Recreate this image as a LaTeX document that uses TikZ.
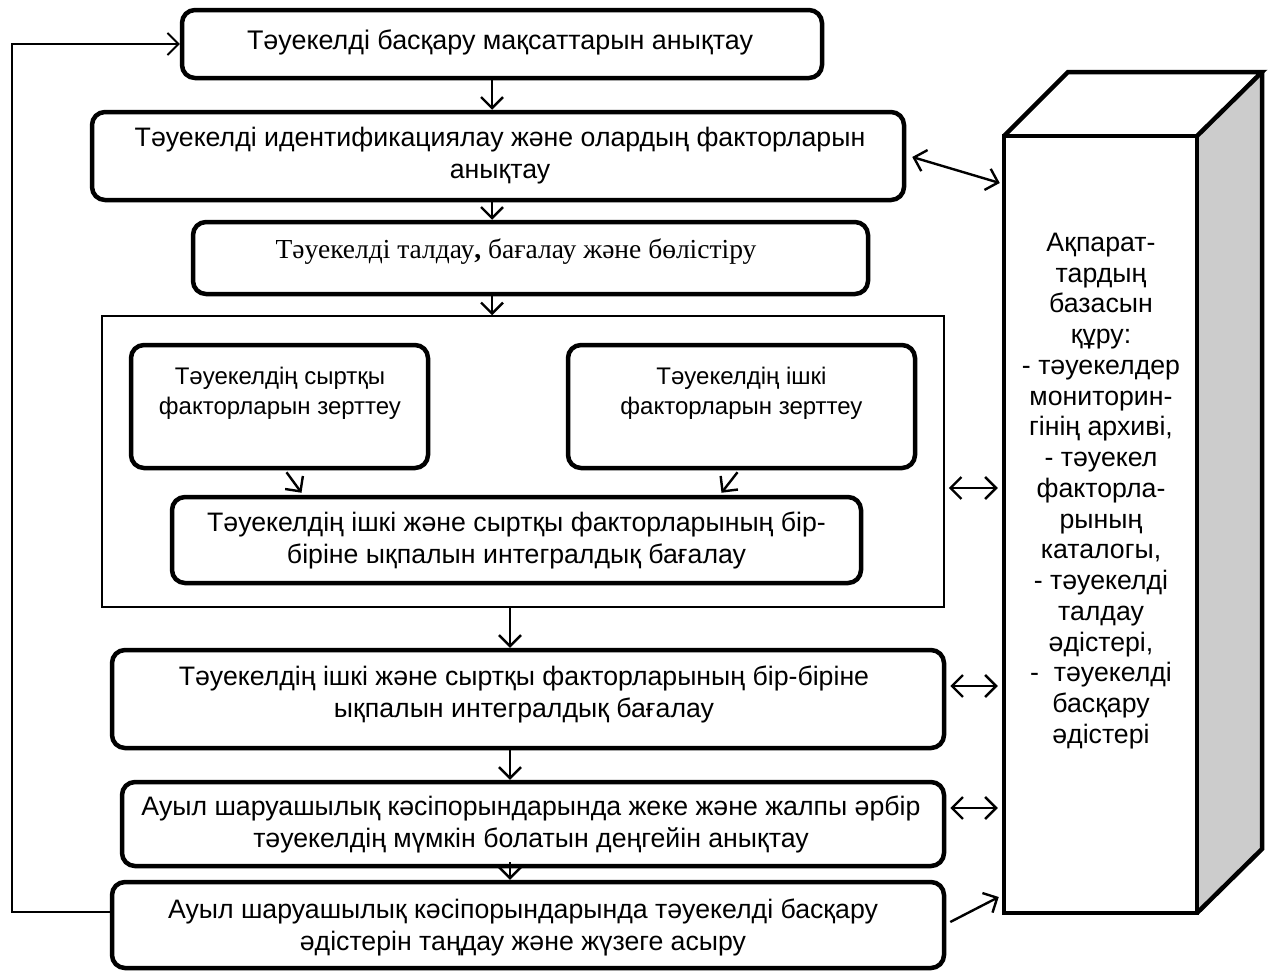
\documentclass[tikz,border=0pt]{standalone}
\usepackage{fontspec}
\setmainfont{Liberation Sans}
\newfontfamily\serifface{Liberation Serif}
\usetikzlibrary{arrows.meta,calc}
\begin{document}
\begin{tikzpicture}[x=1pt,y=-1pt,
  box/.style={draw, line width=4.5pt, rounded corners=13pt, align=center, inner sep=0pt},
  tip/.style={Straight Barb[length=11pt,width=22pt,line width=2.4pt]},
  arr/.style={line width=2.4pt, -{Straight Barb[length=11pt,width=22pt,line width=2.4pt]}},
  darr/.style={line width=2.4pt, {Straight Barb[length=11pt,width=22pt,line width=2.4pt]}-{Straight Barb[length=11pt,width=22pt,line width=2.4pt]}},
  txt/.style={align=center, font=\fontsize{26.7}{32}\selectfont, inner sep=0pt}]
\useasboundingbox (0,0) rectangle (1272,972);
% boxes
\node[box, minimum width=640pt, minimum height=68pt] (b1) at (502,44) {};
\node[txt, font=\fontsize{26.9}{31}\selectfont] (t1) at (500,42) {Тәуекелді басқару мақсаттарын анықтау};
\node[box, minimum width=812pt, minimum height=88pt] (b2) at (498,156) {};
\node[txt] (t2) at (500,156) {Тәуекелді идентификациялау және олардың факторларын\\анықтау};
\node[box, minimum width=675pt, minimum height=72pt] (b3) at (530.5,258) {};
\node[font=\serifface\fontsize{27.5}{30}\selectfont, inner sep=0pt] (t3) at (516,252) {Тәуекелді талдау\textbf{,} бағалау және бөлістіру};
\node[draw, line width=1.5pt, minimum width=842pt, minimum height=291pt, inner sep=0pt] (fr) at (523,461.5) {};
\node[box, minimum width=297pt, minimum height=123pt] (b5) at (279.5,406.5) {};
\node[txt, font=\fontsize{24}{30}\selectfont] (t5) at (280,393) {Тәуекелдің сыртқы\\факторларын зерттеу};
\node[box, minimum width=347pt, minimum height=123pt] (b6) at (741.5,406.5) {};
\node[txt, font=\fontsize{24}{30}\selectfont] (t6) at (741.5,393) {Тәуекелдің ішкі\\факторларын зерттеу};
\node[box, minimum width=689pt, minimum height=86pt] (b7) at (516.5,540) {};
\node[txt] (t7) at (516.5,540) {Тәуекелдің ішкі және сыртқы факторларының бір-\\біріне ықпалын интегралдық бағалау};
\node[box, minimum width=832pt, minimum height=98pt] (b8) at (528,699) {};
\node[txt] (t8) at (524,694) {Тәуекелдің ішкі және сыртқы факторларының бір-біріне\\ықпалын интегралдық бағалау};
\node[box, minimum width=822pt, minimum height=84pt] (b9) at (533,824) {};
\node[txt] (t9) at (531,824) {Ауыл шаруашылық кәсіпорындарында жеке және жалпы әрбір\\тәуекелдің мүмкін болатын деңгейін анықтау};
\node[box, minimum width=832pt, minimum height=86pt] (b10) at (528,925) {};
\node[txt] (t10) at (523,927) {Ауыл шаруашылық кәсіпорындарында тәуекелді басқару\\әдістерін таңдау және жүзеге асыру};
% 3D box
\fill[gray!40] (1197,136) -- (1262,72) -- (1262,849) -- (1197,913) -- cycle;
\draw[line width=4.5pt, line join=miter] (1004,136) -- (1068,72) -- (1262,72) -- (1197,136);
\draw[line width=4.5pt, line join=miter] (1262,72) -- (1262,849) -- (1197,913);
\node[draw, line width=4.5pt, minimum width=193pt, minimum height=777pt, inner sep=0pt] (db) at (1100.5,524.5) {};
\node[txt, font=\fontsize{26.7}{30.75}\selectfont] (tdb) at (1101,491) {Ақпарат-\\тардың\\базасын\\құру:\\- тәуекелдер\\мониторин-\\гінің архиві,\\- тәуекел\\факторла-\\рының\\каталогы,\\- тәуекелді\\талдау\\әдістері,\\-~~тәуекелді\\басқару\\әдістері};
% helper coordinates
\coordinate (xa) at (492,0);
\coordinate (xb) at (510,0);
\coordinate (y2) at (0,183);
\coordinate (yf) at (0,488);
\coordinate (y8) at (0,686);
\coordinate (y9) at (0,808);
\coordinate (y10) at (0,897);
\coordinate (yb) at (0,912);
\coordinate (xl) at (12,0);
% vertical arrows
\draw[arr] (b1.south -| xa) -- (b2.north -| xa);
\draw[arr] (b2.south -| xa) -- (b3.north -| xa);
\draw[arr] (b3.south -| xa) -- (fr.north -| xa);
\draw[arr] (fr.south -| xb) -- (b8.north -| xb);
\draw[arr] (b8.south -| xb) -- (b9.north -| xb);
\draw[arr] ($(b9.south -| xb)+(0,-6)$) -- (b10.north -| xb);
\draw[arr] ($(b5.south)+(7,2)$) -- ($(b7.north)+(-215,-2)$);
\draw[arr] ($(b6.south)+(-4,2)$) -- ($(b7.north)+(205,-2)$);
% side arrows
\draw[darr] ($(b2.east)+(6,1)$) -- ($(db.west |- y2)+(-2,0)$);
\draw[darr] ($(fr.east |- yf)+(4,0)$) -- ($(db.west |- yf)+(-4,0)$);
\draw[darr] ($(b8.east |- y8)+(4,0)$) -- ($(db.west |- y8)+(-4,0)$);
\draw[darr] ($(b9.east |- y9)+(4,0)$) -- ($(db.west |- y9)+(-4,0)$);
\draw[arr] ($(b10.east |- 0,922)+(4,0)$) -- ($(db.west |- y10)+(-3,0)$);
% feedback
\draw[line width=1.5pt, -{Straight Barb[length=11pt,width=22pt,line width=1.8pt]}] (b10.west |- yb) -- (xl |- yb) -- (xl |- b1.west) -- (b1.west);
\end{tikzpicture}
\end{document}
